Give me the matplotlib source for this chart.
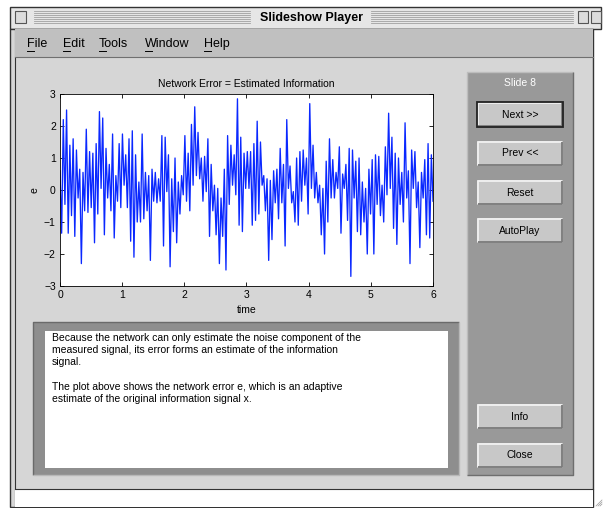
import numpy as np
import matplotlib.pyplot as plt
from matplotlib.patches import Rectangle

plt.rcParams['font.family'] = ['Liberation Sans', 'DejaVu Sans']

# network error e (hi/lo swings, left to right)
e = [0.6, -1.35, 2.2, -0.45, 2.5, -1.35, 1.4, -0.8, 1.6, -1.45, 1.25, -0.25, 0.65, -2.3,
     0.55, -0.65, 1.9, -0.7, 1.2, -0.55, 1.15, -1.65, 1.45, -0.75, 2.45, 0.05, 2.25, -1.4,
     1.3, -0.25, 0.8, -0.65, 1.75, -1.5, 0.45, -0.35, 1.45, -0.55, 1.75, 0.15, 1.1, -0.55,
     1.6, -1.6, 1.85, -2.1, 1.1, -1.0, 0.25, -1.0, 1.75, -0.9, 0.55, -0.65, 0.45, -2.2,
     0.65, -0.35,
     0.55, -0.4, 0.35, -0.35, 1.7, -1.75, 1.65, -0.05, 1.1, -2.4, 0.35, -1.3, 1.0, -1.65,
     0.25, -0.75, 0.45, -0.15, 1.7, -0.35, 1.15, -0.65, 2.05, 0.15, 2.6, 0.45, 1.8, 0.35,
     1.0, -0.35, 1.05, -0.05, 1.6, -1.45, 0.8, -0.65, 0.15, -1.4, 0.05, -2.3, -0.25, -1.45,
     0.65, -2.5, 1.7, -0.45, 1.4, 0.15, 1.1, -0.15, 2.85, -1.1, 1.65, -1.3, 1.15, 0.05,
     1.2, 0.05,
     1.2, -1.1, 1.45, -0.95, 2.15, -0.75, 1.5, 0.15, 0.45, -0.65, 0.35, -2.2, 0.3, -1.55,
     0.6, -0.4, 0.65, -0.9, 1.3, -0.4, 0.8, -1.75, 2.2, 0.05, 0.75, -0.4, -0.05, -1.0,
     1.0, -1.1, 1.2, -0.35, 1.25, 0.15, 1.0, -0.75, 2.7, 0.05, 1.4, -0.25, 0.55, -0.4,
     0.15, -1.4, 0.05, -2.0, 0.9, -1.0, 1.6, -0.25, 0.95, -0.25, 0.55, 0.05, 1.35, -1.35,
     0.5, 0.05,
     0.8, -0.95, 1.3, -2.7, 1.25, -0.25, 0.9, -1.3, 1.0, -1.4, 0.25, -1.0, 0.05, -2.0,
     0.65, -0.75, 0.95, -2.0, 1.1, -0.45, 1.05, -0.8, 0.15, -1.0, 1.35, -0.15, 2.4, 0.05,
     1.65, -1.2, 1.15, -1.7, 1.0, -0.45, 0.55, -1.0, 2.1, -0.25, 0.6, -2.3, 1.25, 0.05,
     1.2, -0.55, 0.25, -1.8, 0.55, -0.25, 0.95, -1.4, 1.45, -1.5, 1.1, -0.35]
t_end = 6
xticks = [0, 1, 2, 3, 4, 5, 6]
yticks = [-3, -2, -1, 0, 1, 2, 3]

menu_items = ['File', 'Edit', 'Tools', 'Window', 'Help']
menu_x = [27, 63, 99, 145, 204]
buttons = ['Next >>', 'Prev <<', 'Reset', 'AutoPlay', 'Info', 'Close']
button_y = [102, 141, 180, 218, 404, 443]
info_lines = [
    'Because the network can only estimate the noise component of the',
    'measured signal, its error forms an estimate of the information',
    'signal.',
    '',
    'The plot above shows the network error e, which is an adaptive',
    'estimate of the original information signal x.',
]

W, H = 603, 508
fig = plt.figure(figsize=(W / 100, H / 100), dpi=100)
fig.patch.set_facecolor('white')

# whole-window overlay in pixel coords
gui = fig.add_axes([0, 0, 1, 1])
gui.set_xlim(0, W)
gui.set_ylim(H, 0)
gui.axis('off')


def box(x0, y0, x1, y1, fc, ec='none', lw=1, z=1):
    gui.add_patch(Rectangle((x0, y0), x1 - x0, y1 - y0, facecolor=fc,
                            edgecolor=ec, linewidth=lw, zorder=z))


def bevel(x0, y0, x1, y1, light, dark, z=3, lw=1.5):
    gui.plot([x0, x0, x1], [y1, y0, y0], color=light, lw=lw, zorder=z,
             solid_capstyle='butt')
    gui.plot([x0, x1, x1], [y1, y1, y0], color=dark, lw=lw, zorder=z,
             solid_capstyle='butt')


# window frame, title bar
box(10, 7, 601, 29, '#e6e6e6', ec='#333333', lw=1)
for yy in np.arange(11, 25, 2):
    gui.plot([34, 250], [yy, yy], color='#a0a0a0', lw=0.6, zorder=2)
    gui.plot([371, 573], [yy, yy], color='#a0a0a0', lw=0.6, zorder=2)
box(15, 11, 26, 23, '#dcdcdc', ec='#555555', lw=0.8, z=3)
box(578, 11, 588, 23, '#dcdcdc', ec='#555555', lw=0.8, z=3)
box(591, 11, 601, 23, '#dcdcdc', ec='#555555', lw=0.8, z=3)
gui.text(311, 17.5, 'Slideshow Player', ha='center', va='center',
         fontsize=9, fontweight='bold', color='black', zorder=4)

# body
box(10, 29, 593, 507, '#d6d6d6', ec='#333333', lw=1)
gui.plot([15, 15], [29, 507], color='#333333', lw=0.8, zorder=2)
box(15, 29, 593, 57, '#c0c0c0', z=2)
gui.plot([15, 593], [57, 57], color='#707070', lw=0.8, zorder=3)
for name, mx in zip(menu_items, menu_x):
    gui.text(mx, 44, name, ha='left', va='center', fontsize=9, zorder=4)
    gui.plot([mx, mx + 7], [51, 51], color='black', lw=0.7, zorder=4)

# status bar
box(15, 489, 593, 507, 'white', z=2)
gui.plot([15, 593], [489, 489], color='#333333', lw=0.8, zorder=3)
for k in range(3):
    gui.plot([596 + 2 * k, 602], [506, 500 + 2 * k], color='#999999', lw=0.5, zorder=3)

# text panel
box(33, 322, 459, 475, '#8e8e8e', z=2)
bevel(33, 322, 459, 475, '#6a6a6a', '#b8b8b8', z=3, lw=1)
box(45, 331, 448, 468, 'white', z=3)
for i, line in enumerate(info_lines):
    gui.text(52, 338 + 12.2 * i, line, ha='left', va='center', fontsize=7.5, zorder=4)

# control panel
box(467, 72, 573, 475, '#999999', z=2)
bevel(467, 72, 573, 475, '#bdbdbd', '#6e6e6e', z=3, lw=1)
gui.text(520, 83, 'Slide 8', ha='center', va='center', fontsize=7.5,
         color='white', zorder=4)
for name, by in zip(buttons, button_y):
    box(477, by, 563, by + 25, '#c8c8c8', z=3)
    bevel(478, by + 1, 562, by + 24, '#f2f2f2', '#7a7a7a', z=4, lw=1.3)
    if name == 'Next >>':
        box(477, by, 563, by + 25, 'none', ec='#222222', lw=1.3, z=5)
    gui.text(520, by + 12.5, name, ha='center', va='center', fontsize=7.5, zorder=5)

# the plot itself
ax = fig.add_axes([60 / W, 1 - 286 / H, 373 / W, 192 / H])
t = np.linspace(0, t_end, len(e))
ax.plot(t, e, color='#0a28ff', lw=0.95)
ax.set_xlim(0, 6)
ax.set_ylim(-3, 3)
ax.set_xticks(xticks)
ax.set_yticks(yticks)
ax.set_yticklabels([str(v).replace('-', '\u2212') for v in yticks])
ax.tick_params(direction='in', top=True, right=True, length=3, width=0.6,
               labelsize=7.5, pad=3)
for s in ax.spines.values():
    s.set_linewidth(0.6)
ax.set_title('Network Error = Estimated Information', fontsize=7.5, pad=5)
ax.set_xlabel('time', fontsize=7.5)
ax.set_ylabel('e', fontsize=7.5)
ax.xaxis.set_label_coords(0.5, -0.1)
ax.yaxis.set_label_coords(-0.054, 0.5)

fig.savefig('out.png', dpi=100)
